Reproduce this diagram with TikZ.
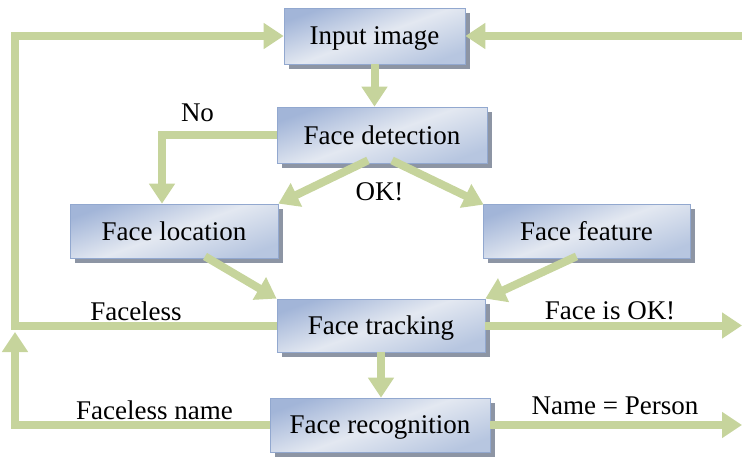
\documentclass[tikz,border=0pt]{standalone}
\usepackage{fontspec}
\setmainfont{Liberation Serif}
\usetikzlibrary{arrows.meta,shadows,calc}
\definecolor{flowgreen}{HTML}{C6D49C}
\definecolor{boxdark}{HTML}{A2B5D8}
\definecolor{boxmid}{HTML}{E3E8F1}
\definecolor{boxlow}{HTML}{B7C6E0}
\definecolor{boxline}{HTML}{92A8CF}
\definecolor{boxshadow}{HTML}{8D95A4}
\tikzset{
  stepbox/.style={draw=boxline, line width=0.8pt, rectangle, inner sep=0pt,
    text depth=0pt,
    top color=boxdark, bottom color=boxlow, middle color=boxmid, shading angle=20,
    drop shadow={shadow xshift=5pt, shadow yshift=-5pt, fill=boxshadow, opacity=1},
    font=\fontsize{27}{31}\selectfont},
  lbl/.style={font=\fontsize{27}{31}\selectfont, inner sep=0pt},
  flow/.style={draw=flowgreen, line width=8pt, -{Triangle[width=25pt,length=20pt]}},
}
\begin{document}
\begin{tikzpicture}[x=1pt,y=-1pt]
\useasboundingbox (0,0) rectangle (742,458);

% process boxes
\node[stepbox, minimum width=181pt, minimum height=56pt] (inp) at (374.5,36) {Input image};
\node[stepbox, minimum width=210pt, minimum height=56pt] (det) at (382,135) {Face detection};
\node[stepbox, minimum width=208pt, minimum height=54pt] (loc) at (174,231) {Face location};
\node[stepbox, minimum width=207pt, minimum height=54pt] (fea) at (586.5,231) {Face feature};
\node[stepbox, minimum width=208pt, minimum height=53pt] (trk) at (381,325.5) {Face tracking};
\node[stepbox, minimum width=220pt, minimum height=54pt] (rec) at (380,425) {Face recognition};

% guide lines for the outer edges and the feedback loop
\coordinate (rEdge) at (742,0);
\coordinate (lEdge) at (15,0);
\coordinate (noCol) at (162,0);

% free ends and bends
\coordinate (inR) at (inp.east -| rEdge);
\coordinate (noBend) at (det.west -| noCol);
\coordinate (loopTop) at (inp.west -| lEdge);
\coordinate (loopMid) at (trk.west -| lEdge);
\coordinate (loopTip) at (15,332);
\coordinate (loopLow) at (rec.west -| lEdge);
\coordinate (okOut) at (trk.east -| rEdge);
\coordinate (nameOut) at (rec.east -| rEdge);

% connectors
\draw[flow] (inR) -- (inp.east);
\draw[flow] (inp.south) -- (inp.south |- det.north);
\draw[flow] (det.west) -- (noBend) -- (noBend |- loc.north);
\draw[flow] ($(det.south)+(-14,-3)$) -- (loc.north east);
\draw[flow] ($(det.south)+(10,-3)$) -- ($(fea.north west)+(1,1)$);
\draw[flow] ($(loc.south)+(31,-2)$) -- (trk.north west);
\draw[flow] ($(fea.south)+(-10,-2)$) -- (trk.north east);
\draw[flow] (trk.west) -- (loopMid) -- (loopTop) -- (inp.west);
\draw[flow] (rec.west) -- (loopLow) -- (loopTip);
\draw[flow] (trk.south) -- (trk.south |- rec.north);
\draw[flow] (trk.east) -- (okOut);
\draw[flow] (rec.east) -- (nameOut);

% branch labels
\node[lbl] (lNo) at (197.5,113) {No};
\node[lbl] (lOk) at (379.5,192) {OK!};
\node[lbl] (lFaceless) at (136,311) {Faceless};
\node[lbl] (lFacelessName) at (154.5,410) {Faceless name};
\node[lbl] (lFaceOk) at (610,311) {Face is OK!};
\node[lbl] (lName) at (615,406) {Name = Person};
\end{tikzpicture}
\end{document}
